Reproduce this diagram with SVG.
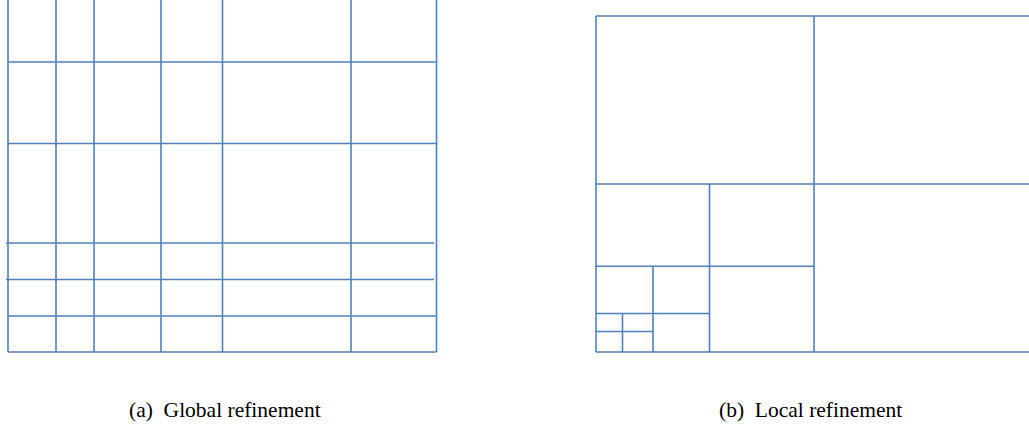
<svg xmlns="http://www.w3.org/2000/svg" width="1029" height="440" viewBox="0 0 1029 440">
<style>
.g line { stroke: #4F81BD; stroke-width: 1.6; fill: none; }
.cap { font-family: "Liberation Serif", "Times New Roman", serif; font-size: 21.5px; fill: #000; white-space: pre; }
</style>
<rect width="1029" height="440" fill="#fff"/>
<g id="global" class="g">
  <line x1="8" y1="0" x2="8" y2="352"/>
  <line x1="56" y1="0" x2="56" y2="352"/>
  <line x1="94" y1="0" x2="94" y2="352"/>
  <line x1="161" y1="0" x2="161" y2="352"/>
  <line x1="222.5" y1="0" x2="222.5" y2="352"/>
  <line x1="351" y1="0" x2="351" y2="352"/>
  <line x1="436.5" y1="0" x2="436.5" y2="352"/>
  <line x1="8" y1="62" x2="436.5" y2="62"/>
  <line x1="8" y1="143.5" x2="436.5" y2="143.5"/>
  <line x1="6" y1="243" x2="434" y2="243"/>
  <line x1="6" y1="279.5" x2="434" y2="279.5"/>
  <line x1="8" y1="316" x2="436.5" y2="316"/>
  <line x1="8" y1="352" x2="436.5" y2="352"/>
</g>
<g id="local" class="g">
  <line x1="596" y1="16" x2="1029" y2="16"/>
  <line x1="596" y1="16" x2="596" y2="352"/>
  <line x1="596" y1="352" x2="1029" y2="352"/>
  <line x1="814" y1="16" x2="814" y2="352"/>
  <line x1="596" y1="184" x2="1029" y2="184"/>
  <line x1="709.5" y1="184" x2="709.5" y2="352"/>
  <line x1="596" y1="266.3" x2="814" y2="266.3"/>
  <line x1="653" y1="266.3" x2="653" y2="352"/>
  <line x1="596" y1="313.5" x2="709.5" y2="313.5"/>
  <line x1="622.5" y1="313.5" x2="622.5" y2="352"/>
  <line x1="596" y1="331.5" x2="653" y2="331.5"/>
</g>
<text id="cap-a" class="cap" x="129" y="417" xml:space="preserve">(a)  Global refinement</text>
<text id="cap-b" class="cap" x="719" y="417" xml:space="preserve">(b)  Local refinement</text>
</svg>
